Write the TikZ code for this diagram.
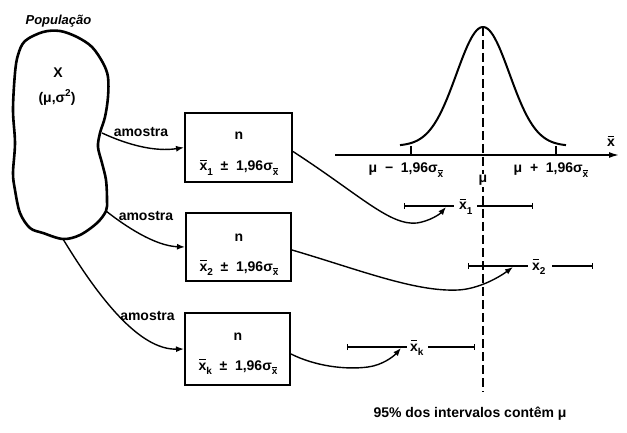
\documentclass[tikz,border=0pt]{standalone}
\usepackage{fontspec}
\setmainfont{Liberation Sans}
\usetikzlibrary{arrows.meta}
\newcommand\xbr{\makebox[0pt][l]{\hspace{0.04em}\raisebox{0.68em}{\rule{0.48em}{0.08em}}}x}
\newcommand\lowsub[1]{\raisebox{-0.32em}{\fontsize{10}{10}\selectfont #1}}
\newcommand\sgx{σ\lowsub{\xbr}}
\newcommand\gsp{\hspace{0.55em}}
\begin{document}
\begin{tikzpicture}[x=1pt,y=-1pt,
  lbl/.style={inner sep=0pt,font=\fontsize{14}{16}\selectfont\bfseries},
  blobline/.style={line width=2.6pt,line join=round},
  boxst/.style={draw,line width=2pt,inner sep=0pt},
  conn/.style={line width=1.4pt,-{Latex[length=8pt,width=6pt]}},
  ival/.style={line width=1.3pt},
  ivl/.style={ival,{Bar[width=6pt]}-},
  ivr/.style={ival,-{Bar[width=6pt]}}]
\useasboundingbox (0,0) rectangle (627,433);

% population blob
\draw[blobline] plot[smooth cycle,tension=0.55] coordinates {
 (43,32) (60,31) (77,37) (92,47) (103,63) (108,77) (108,97) (105,117)
 (100,133) (98,147) (102,163) (106,180) (107,200) (106,211) (97,223)
 (80,235) (63,239) (43,233) (30,228) (20,213) (15,190) (13,173)
 (15,143) (13,110) (15,73) (18,55) (25,41)};
\node[lbl,anchor=base,font=\fontsize{13}{15}\selectfont\bfseries\itshape] (pop) at (58.5,25) {População};
\node[lbl,anchor=base] (X) at (58,78) {X};
\node[lbl,anchor=base] (par) at (57,103) {(μ,σ\raisebox{0.45em}{\fontsize{10}{10}\selectfont 2})};
\coordinate (s1) at (102,133);
\coordinate (s2) at (106,211);
\coordinate (s3) at (63,239);

% boxes
\node[boxst,minimum width=107pt,minimum height=69pt] (b1) at (238.5,147.5) {};
\node[boxst,minimum width=105pt,minimum height=68pt] (b2) at (238.5,247) {};
\node[boxst,minimum width=105pt,minimum height=72pt] (b3) at (237.5,349) {};
\node[lbl,anchor=base] (b1n) at (239,140) {n};
\node[lbl,anchor=base] (b1f) at (239,171) {\xbr\lowsub{1}\gsp±\gsp1,96\sgx};
\node[lbl,anchor=base] (b2n) at (239,241) {n};
\node[lbl,anchor=base] (b2f) at (239,271) {\xbr\lowsub{2}\gsp±\gsp1,96\sgx};
\node[lbl,anchor=base] (b3n) at (238,340) {n};
\node[lbl,anchor=base] (b3f) at (238,370) {\xbr\lowsub{k}\gsp±\gsp1,96\sgx};

% sample arrows
\draw[conn] (s1) .. controls (128,145) and (155,152) .. (b1.west);
\draw[conn] (s2) .. controls (125,226) and (155,246) .. (b2.west);
\draw[conn] (s3) .. controls (100,300) and (140,350) .. (b3.west);
\node[lbl,anchor=base] (am1) at (141,137) {amostra};
\node[lbl,anchor=base] (am2) at (146,220) {amostra};
\node[lbl,anchor=base] (am3) at (147.5,320) {amostra};

% normal curve and axis
\coordinate (ax0) at (335,155);
\coordinate (ax1) at (619,155);
\draw[line width=1.5pt,-{Latex[length=10pt,width=6pt]}] (ax0) -- (ax1);
\draw[line width=2pt] plot[domain=400:566,samples=90,smooth] (\x,{146-119*exp(-((\x-483)*(\x-483))/1404)});
\coordinate (tl0) at (411,146);
\coordinate (tl1) at (411,155);
\coordinate (tr0) at (556,146.5);
\coordinate (tr1) at (556,155);
\draw[line width=1.6pt] (tl0) -- (tl1);
\draw[line width=1.6pt] (tr0) -- (tr1);
\node[lbl,anchor=base] (xax) at (611,147) {\xbr};
\node[lbl,anchor=base] (lo) at (406,173) {μ\gsp−\gsp1,96\sgx};
\node[lbl,anchor=base] (hi) at (551,173) {μ\gsp+\gsp1,96\sgx};

% intervals
\coordinate (i1a) at (404,206); \coordinate (i1b) at (454,206);
\coordinate (i1c) at (477,206); \coordinate (i1d) at (533,206);
\node[lbl,anchor=base west] (m1) at (459,210) {\xbr\lowsub{1}};
\draw[ivl] (i1a) -- (i1b);
\draw[ivr] (i1c) -- (i1d);
\coordinate (i2a) at (468,266); \coordinate (i2b) at (528,266);
\coordinate (i2c) at (552,266); \coordinate (i2d) at (593,266);
\node[lbl,anchor=base west] (m2) at (532,270) {\xbr\lowsub{2}};
\draw[ivl] (i2a) -- (i2b);
\draw[ivr] (i2c) -- (i2d);
\coordinate (i3a) at (347,347); \coordinate (i3b) at (407,347);
\coordinate (i3c) at (428,347); \coordinate (i3d) at (475,347);
\node[lbl,anchor=base west] (m3) at (410,351) {\xbr\lowsub{k}};
\draw[ivl] (i3a) -- (i3b);
\draw[ivr] (i3c) -- (i3d);

% arrows to intervals
\coordinate (t1) at (446,207);
\coordinate (t2) at (513,267);
\coordinate (t3) at (401,348);
\draw[conn] ([yshift=-4pt]b1.east) .. controls (360,195) and (390,226) .. (417,223) .. controls (430,221) and (440,214) .. (t1);
\draw[conn] ([yshift=-3pt]b2.east) .. controls (360,270) and (415,292) .. (458,290) .. controls (478,289) and (498,278) .. (t2);
\draw[conn] ([yshift=-5pt]b3.east) .. controls (315,366) and (345,370) .. (368,367) .. controls (383,365) and (394,356) .. (t3);

% dashed mean line
\coordinate (peak) at (483,27);
\coordinate (dbot) at (483,392);
\draw[line width=1.6pt,dash pattern=on 9pt off 4pt] (peak) -- (dbot);
\node[lbl,anchor=base,fill=white,inner sep=1.5pt] (mu) at (483,183) {μ};

\node[lbl,anchor=base] (foot) at (470,417) {95\% dos intervalos contêm μ};
\end{tikzpicture}
\end{document}
